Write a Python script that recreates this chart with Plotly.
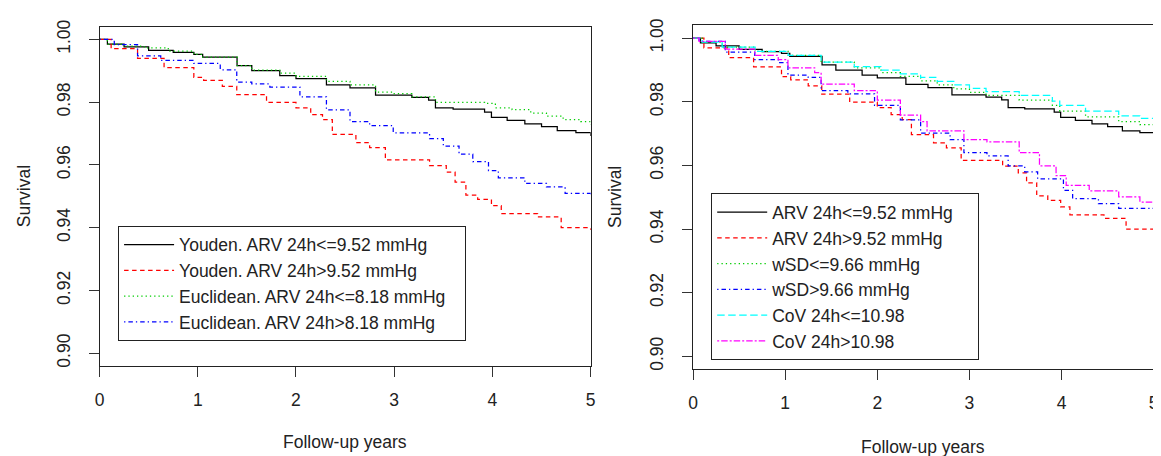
import plotly.graph_objects as go

# ---------------- data ----------------
# Left panel
youden_le_t = [0, 0.08, 0.25, 0.5, 0.75, 0.96, 1.05, 1.4, 1.55, 1.835, 2.0, 2.31, 2.55, 2.81,
               3.18, 3.35, 3.42, 3.6, 3.92, 3.99, 4.15, 4.33, 4.5, 4.66, 4.85, 5.0]
youden_le_s = [1.0, 0.9985, 0.9976, 0.9965, 0.9958, 0.9952, 0.9943, 0.9916, 0.9900, 0.9884,
               0.9875, 0.9855, 0.9845, 0.9822, 0.9815, 0.9806, 0.9782, 0.9778, 0.9768, 0.9751,
               0.9742, 0.9731, 0.9722, 0.9709, 0.9703, 0.9692]

youden_gt_t = [0, 0.118, 0.387, 0.657, 0.96, 1.06, 1.25, 1.397, 1.70, 2.0, 2.15, 2.27, 2.37,
               2.61, 2.75, 2.91, 3.36, 3.53, 3.62, 3.73, 3.85, 3.99, 4.09, 4.46, 4.70, 5.0]
youden_gt_s = [1.0, 0.9970, 0.9939, 0.9910, 0.9879, 0.9869, 0.9850, 0.9824, 0.9799, 0.9782,
               0.9760, 0.9744, 0.9697, 0.9671, 0.9655, 0.9616, 0.9598, 0.9577, 0.9545, 0.9504,
               0.9490, 0.9470, 0.9445, 0.9434, 0.9400, 0.9393]

eucl_le_t = [0, 0.08, 0.25, 0.455, 0.7, 0.96, 1.05, 1.4, 1.55, 1.835, 2.0, 2.31, 2.55, 2.81,
             3.0, 3.18, 3.42, 3.92, 4.03, 4.2, 4.39, 4.55, 4.72, 4.9, 5.0]
eucl_le_s = [1.0, 0.9985, 0.9978, 0.9973, 0.9962, 0.9952, 0.9943, 0.9916, 0.9902, 0.9892,
             0.9882, 0.9866, 0.9855, 0.9832, 0.9827, 0.9817, 0.9799, 0.9796, 0.9782, 0.9776,
             0.9765, 0.9755, 0.9744, 0.9738, 0.9728]

eucl_gt_t = [0, 0.15, 0.387, 0.623, 0.96, 1.229, 1.397, 1.55, 1.734, 2.04, 2.31, 2.55, 2.75,
             2.99, 3.36, 3.5, 3.66, 3.8, 3.96, 4.06, 4.33, 4.55, 4.74, 5.0]
eucl_gt_s = [1.0, 0.9983, 0.9947, 0.9933, 0.9923, 0.9903, 0.9864, 0.9858, 0.9848, 0.9817,
             0.9775, 0.9738, 0.9725, 0.9702, 0.9684, 0.9660, 0.9634, 0.9610, 0.9582, 0.9559,
             0.9541, 0.9530, 0.9509, 0.9497]

# Right panel (ARV curves are the same as the Youden curves)
wsd_le_t = [0, 0.1, 0.316, 0.674, 1.033, 1.39, 1.75, 2.04, 2.25, 2.47, 2.65, 2.83, 3.0, 3.18,
            3.54, 3.90, 3.98, 4.26, 4.62, 4.85, 5.0]
wsd_le_s = [1.0, 0.9988, 0.9972, 0.9959, 0.9946, 0.9925, 0.9907, 0.9892, 0.9880, 0.9866,
            0.9853, 0.9841, 0.9830, 0.9820, 0.9805, 0.9789, 0.9771, 0.9753, 0.9738, 0.9728, 0.9715]

wsd_gt_t = [0, 0.065, 0.35, 0.67, 0.925, 1.03, 1.25, 1.39, 1.68, 1.97, 2.25, 2.47, 2.79, 2.94,
            3.19, 3.42, 3.6, 3.74, 4.02, 4.12, 4.4, 4.62, 5.0]
wsd_gt_s = [1.0, 0.999, 0.9956, 0.9933, 0.9923, 0.9884, 0.9877, 0.9835, 0.9825, 0.9789,
            0.9743, 0.9702, 0.9681, 0.9640, 0.9630, 0.9599, 0.9580, 0.9558, 0.9522, 0.9496,
            0.9480, 0.9465, 0.9441]

cov_le_t = [0, 0.1, 0.316, 0.674, 1.033, 1.39, 1.75, 2.04, 2.25, 2.47, 2.65, 2.83, 3.0, 3.18,
            3.54, 3.90, 3.98, 4.26, 4.62, 4.85, 5.0]
cov_le_s = [1.0, 0.9988, 0.9972, 0.9959, 0.9946, 0.9925, 0.9911, 0.9900, 0.9888, 0.9877,
            0.9864, 0.9853, 0.9842, 0.9832, 0.9820, 0.9802, 0.9789, 0.9771, 0.9756, 0.9748, 0.9738]

cov_gt_t = [0, 0.065, 0.35, 0.67, 0.925, 1.03, 1.32, 1.39, 1.75, 2.0, 2.25, 2.47, 2.54, 2.94,
            3.19, 3.54, 3.76, 3.94, 4.05, 4.3, 4.62, 4.85, 5.0]
cov_gt_s = [1.0, 0.999, 0.9966, 0.9946, 0.9933, 0.9907, 0.9892, 0.9856, 0.9835, 0.9805,
            0.9758, 0.9738, 0.9709, 0.9681, 0.9674, 0.9640, 0.9599, 0.9568, 0.9537, 0.9520,
            0.9501, 0.9485, 0.9472]

left_names = ["Youden. ARV 24h<=9.52 mmHg", "Youden. ARV 24h>9.52 mmHg",
              "Euclidean. ARV 24h<=8.18 mmHg", "Euclidean. ARV 24h>8.18 mmHg"]
right_names = ["ARV 24h<=9.52 mmHg", "ARV 24h>9.52 mmHg", "wSD<=9.66 mmHg",
               "wSD>9.66 mmHg", "CoV 24h<=10.98", "CoV 24h>10.98"]

x_ticks = [0, 1, 2, 3, 4, 5]
y_ticks = [0.90, 0.92, 0.94, 0.96, 0.98, 1.00]
y_tick_text = ["0.90", "0.92", "0.94", "0.96", "0.98", "1.00"]

# ---------------- styles ----------------
FONT = "Liberation Sans, Arial, sans-serif"
FS = 17.5
TXT = "#222222"
W = 1.25
BLACK = dict(color="#000000", width=W, dash="solid")
RED = dict(color="#FF0000", width=W, dash="4.5px,3.5px")
GREEN = dict(color="#00CD00", width=W, dash="1.3px,3px")
BLUE = dict(color="#0000FF", width=W, dash="1.3px,3px,4.5px,3px")
CYAN = dict(color="#00FFFF", width=W, dash="7.5px,3.5px")
MAGENTA = dict(color="#FF00FF", width=W, dash="2px,2px,6.5px,2px")

NB = "\u00a0"
fig = go.Figure()

def add(t, s, name, line, xa, ya, leg, pad):
    fig.add_trace(go.Scatter(x=t, y=s, name=name + NB * pad, mode="lines",
                             line=dict(shape="hv", **line),
                             xaxis=xa, yaxis=ya, legend=leg))

add(youden_le_t, youden_le_s, left_names[0], BLACK, "x", "y", "legend", 3)
add(youden_gt_t, youden_gt_s, left_names[1], RED, "x", "y", "legend", 3)
add(eucl_le_t, eucl_le_s, left_names[2], GREEN, "x", "y", "legend", 3)
add(eucl_gt_t, eucl_gt_s, left_names[3], BLUE, "x", "y", "legend", 3)

add(youden_le_t, youden_le_s, right_names[0], BLACK, "x2", "y2", "legend2", 4)
add(youden_gt_t, youden_gt_s, right_names[1], RED, "x2", "y2", "legend2", 4)
add(wsd_le_t, wsd_le_s, right_names[2], GREEN, "x2", "y2", "legend2", 4)
add(wsd_gt_t, wsd_gt_s, right_names[3], BLUE, "x2", "y2", "legend2", 4)
add(cov_le_t, cov_le_s, right_names[4], CYAN, "x2", "y2", "legend2", 4)
add(cov_gt_t, cov_gt_s, right_names[5], MAGENTA, "x2", "y2", "legend2", 4)

# page body has an 8px margin: size the figure so that target pixels line up
OFF = 8
PW, PH = 1161 - OFF, 456 - OFF

def px(x):
    return (x - OFF) / PW

def py(y):
    return 1 - (y - OFF) / PH

def xax(domain):
    return dict(domain=domain, range=[0, 5], tickvals=x_ticks, ticks="outside", ticklen=10,
                tickcolor="#333", tickwidth=1, showline=True, linecolor="#222", linewidth=1,
                mirror=True, showgrid=False, zeroline=False,
                tickfont=dict(family=FONT, size=FS, color=TXT), ticklabelstandoff=8)

def yax(domain, anchor):
    return dict(domain=domain, range=[0.896, 1.004], tickvals=y_ticks, ticktext=y_tick_text,
                ticks="outside", ticklen=10, tickcolor="#333", tickwidth=1, tickangle=-90,
                showline=True, linecolor="#222", linewidth=1, mirror=True, showgrid=False,
                zeroline=False, anchor=anchor,
                tickfont=dict(family=FONT, size=FS, color=TXT), ticklabelstandoff=12)

legend_common = dict(bgcolor="rgba(255,255,255,1)", bordercolor="#222", borderwidth=1,
                     font=dict(family=FONT, size=FS, color=TXT), xanchor="left",
                     yanchor="top", itemwidth=50, tracegroupgap=0)

fig.update_layout(
    width=PW, height=PH, margin=dict(l=0, r=0, t=0, b=0),
    paper_bgcolor="white", plot_bgcolor="white", showlegend=True,
    xaxis=xax([px(95.3), px(590.7)]) | dict(anchor="y"),
    yaxis=yax([py(366), py(20)], "x"),
    xaxis2=xax([px(694), px(1158.7)]) | dict(anchor="y2"),
    yaxis2=yax([py(369.3), py(18.7)], "x2"),
    legend=dict(x=px(114), y=py(223), **legend_common),
    legend2=dict(x=px(712.3), y=py(190), **legend_common),
)

annos = [
    dict(text="Survival", x=px(19), y=py(193), textangle=-90),
    dict(text="Survival", x=px(616), y=py(194), textangle=-90),
    dict(text="Follow-up years", x=px(343), y=py(444), textangle=0),
    dict(text="Follow-up years", x=px(926), y=py(449), textangle=0),
]
for a in annos:
    fig.add_annotation(xref="paper", yref="paper", showarrow=False, xanchor="center",
                       yanchor="middle", font=dict(family=FONT, size=FS, color=TXT), **a)

fig.write_html("out.html")
